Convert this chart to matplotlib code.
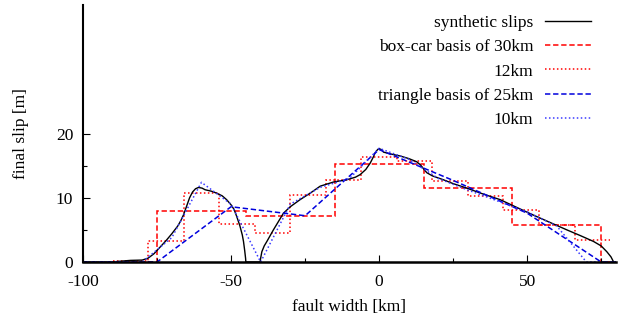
import numpy as np
import matplotlib
matplotlib.use("Agg")
import matplotlib.pyplot as plt

plt.rcParams['font.family'] = ['Liberation Serif', 'DejaVu Serif']
plt.rcParams['font.size'] = 12.5
plt.rcParams['axes.unicode_minus'] = False

# synthetic slip profile along fault width
syn_x = [-100, -90, -88, -84, -80, -78, -76, -74, -72, -70, -68, -67, -66, -65, -64,
         -63, -62, -61, -59.8, -58.8, -56.5, -54.8, -53, -51.5, -50, -49, -48.1, -47,
         -46.2, -45.8, -45.4, -45.1, -45, -40.2, -40, -39.6, -38.8, -37.9, -35.7, -34,
         -32.3, -30, -26.7, -23, -19.9, -15.4, -10.9, -8, -6.4, -4.5, -3, -2, -1.35,
         -0.5, 0, 0.7, 1.5, 4, 7.1, 10, 12.7, 14, 15.2, 16.1, 18, 21.7, 25, 29.6, 35,
         40.9, 46, 52.1, 58, 63.4, 68, 72.4, 75, 76.9, 78.3, 79.2, 80]
syn_y = [0, 0, 0.1, 0.25, 0.3, 0.6, 1.3, 2.3, 3.3, 4.4, 5.6, 6.4, 7.4, 8.7, 10.0,
         10.9, 11.4, 11.6, 11.5, 11.25, 11.0, 10.7, 10.3, 9.7, 8.9, 8.2, 7.1, 5.6,
         4.2, 3.2, 1.8, 0.6, 0, 0, 0.6, 1.6, 2.5, 3.2, 5.0, 6.3,
         7.6, 8.6, 9.7, 10.8, 11.8, 12.45, 12.8, 13.2, 13.6, 14.4, 15.4, 16.3, 17.0,
         17.5, 17.65, 17.5, 17.1, 16.8, 16.5, 16.1, 15.6, 15.1, 14.4, 13.9, 13.4, 12.8, 12.2, 11.5, 10.6,
         9.7, 8.6, 7.3, 6.1, 5.0, 4.1, 3.2, 2.5, 1.6, 0.8, 0, 0]

# box-car basis, 30 km
box30_edges = [-100, -75, -45, -15, 15, 45, 75, 80]
box30_vals = [0, 7.9, 7.2, 15.3, 11.5, 5.8, 0]

# box-car basis, 12 km
box12_edges = [-90, -78, -66, -54, -42, -30, -18, -6, 6, 18, 30, 42, 54, 66, 78]
box12_vals = [0.2, 3.2, 10.7, 5.9, 4.5, 10.4, 12.8, 16.4, 15.7, 12.65, 10.3, 8.1, 5.8, 3.4]

# triangle basis, 25 km
tri25_x = [-100, -75, -50, -25, 0, 25, 50, 75, 80]
tri25_y = [0, 0, 8.6, 7.2, 17.5, 12.7, 7.6, 0, 0]

# triangle basis, 10 km
tri10_x = [-100, -80, -70, -60, -50, -40, -30, -20, -10, 0, 10, 20, 30, 40, 50, 60, 70, 80]
tri10_y = [0, 0, 3.8, 12.4, 9.0, 0, 9.0, 11.6, 13.0, 17.7, 16.0, 13.0, 11.2, 9.5, 7.8, 5.6, 0, 0]

labels = ["synthetic slips", "box-car basis of 30km", "12km",
          "triangle basis of 25km", "10km"]

fig = plt.figure(figsize=(6.19, 3.23), dpi=100)
ax = fig.add_axes([83 / 619, 61 / 323, 533 / 619, 257 / 323])

ax.plot(syn_x, syn_y, color='black', lw=1.0, label=labels[0])
ax.stairs(box30_vals, box30_edges, color='red', lw=1.1, linestyle=(0, (3.5, 1.8)),
          baseline=None, label=labels[1])
ax.stairs(box12_vals, box12_edges, color='red', lw=1.1, linestyle=(0, (1, 1.6)),
          baseline=None, label=labels[2])
ax.plot(tri25_x, tri25_y, color='#0000dd', lw=1.1, linestyle=(0, (3.5, 1.8)), label=labels[3])
ax.plot(tri10_x, tri10_y, color='#3a3aff', lw=1.1, linestyle=(0, (1, 1.6)), label=labels[4])

ax.set_xlim(-100, 80)
ax.set_ylim(0, 40)
ax.set_xticks([-100, -50, 0, 50])
ax.set_xticks([-75, -25, 25, 75], minor=True)
ax.set_yticks([0, 10, 20])
ax.set_yticks([5, 15], minor=True)
ax.tick_params(which='both', direction='in', top=False, right=False, labelsize=12.5)
ax.tick_params(axis='x', which='major', pad=9)
ax.tick_params(axis='y', which='major', pad=7)
ax.tick_params(which='major', length=5, width=0.8)
ax.tick_params(which='minor', length=3, width=0.8)

for s in ['top', 'right']:
    ax.spines[s].set_visible(False)
ax.spines['left'].set_linewidth(1.5)
ax.spines['bottom'].set_linewidth(1.8)

ax.set_xlabel("fault width [km]", fontsize=12.5, labelpad=6)
ax.set_ylabel("final slip [m]", fontsize=12.5)
ax.yaxis.set_label_coords(-0.101, 0.5)

leg = ax.legend(loc='upper right', frameon=False, markerfirst=False,
                handlelength=2.6, handletextpad=0.7, labelspacing=0.46,
                bbox_to_anchor=(0.975, 1.008), borderaxespad=0.3)

fig.savefig("out.png", dpi=100)
